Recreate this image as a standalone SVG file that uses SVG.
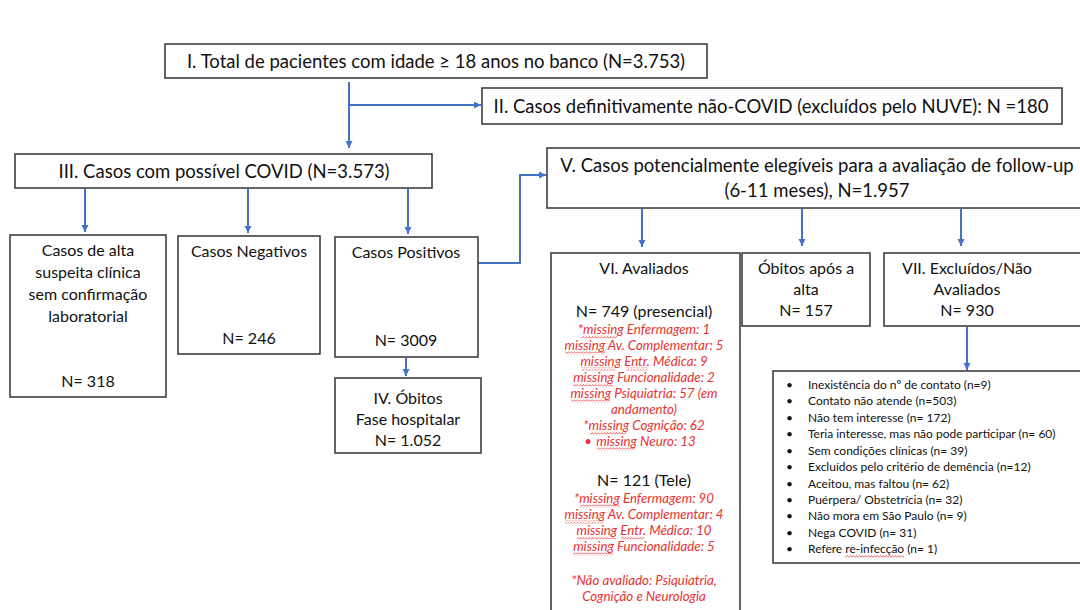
<svg xmlns="http://www.w3.org/2000/svg" width="1080" height="610" viewBox="0 0 1080 610">
<defs>
<marker id="arr" markerUnits="userSpaceOnUse" markerWidth="10" markerHeight="10" refX="7" refY="3.5" orient="auto">
<path d="M0,0 L7,3.5 L0,7 Z" fill="#4472C4"/>
</marker>
<pattern id="wave" patternUnits="userSpaceOnUse" width="3" height="3">
<path d="M0 2.5 L1.5 0.5 L3 2.5" fill="none" stroke="#e8322f" stroke-width="0.7"/>
</pattern>
</defs>
<style>
.box{fill:#fff;stroke:#333;stroke-width:1.5}
.t{font-family:Lato,"Open Sans",sans-serif;fill:#111;text-anchor:middle}
.l{font-size:18.5px}
.m{font-size:16px}
.r{font-family:Lato,"Open Sans",sans-serif;font-style:italic;fill:#e8322f;font-size:13.3px;text-anchor:middle}
.s{font-family:Lato,"Open Sans",sans-serif;fill:#111;font-size:12px}
.wv{fill:url(#wave)}
.c{fill:none;stroke:#4472C4;stroke-width:2}
</style>
<rect width="1080" height="610" fill="#fff"/>
<g id="connectors">
<path class="c" d="M349 82 V148" marker-end="url(#arr)"/>
<path class="c" d="M349 105 H481" marker-end="url(#arr)"/>
<path class="c" d="M85 189 V232" marker-end="url(#arr)"/>
<path class="c" d="M248 189 V233" marker-end="url(#arr)"/>
<path class="c" d="M408 189 V234" marker-end="url(#arr)"/>
<path class="c" d="M406 358 V376" marker-end="url(#arr)"/>
<path class="c" d="M478 263 H520 V175 H546" marker-end="url(#arr)"/>
<path class="c" d="M642 209 V247" marker-end="url(#arr)"/>
<path class="c" d="M802 209 V246" marker-end="url(#arr)"/>
<path class="c" d="M961 209 V246" marker-end="url(#arr)"/>
<path class="c" d="M967 327 V370" marker-end="url(#arr)"/>
</g>
<g id="n1"><rect class="box" x="165" y="44" width="542" height="34"/>
<text class="t l" x="436" y="68">I. Total de pacientes com idade ≥ 18 anos no banco (N=3.753)</text></g>
<g id="n2"><rect class="box" x="482" y="88" width="580" height="36"/>
<text class="t l" x="771" y="113">II. Casos definitivamente não-COVID (excluídos pelo NUVE): N =180</text></g>
<g id="n3"><rect class="box" x="15" y="154" width="417" height="34"/>
<text class="t l" x="224" y="178">III. Casos com possível COVID (N=3.573)</text></g>
<g id="n3a"><rect class="box" x="10" y="235" width="156" height="162"/>
<text class="t m" x="88" y="256">Casos de alta</text>
<text class="t m" x="88" y="278">suspeita clínica</text>
<text class="t m" x="88" y="300">sem confirmação</text>
<text class="t m" x="88" y="322">laboratorial</text>
<text class="t m" x="88" y="387">N= 318</text></g>
<g id="n3b"><rect class="box" x="178" y="236" width="142" height="118"/>
<text class="t m" x="249" y="257">Casos Negativos</text>
<text class="t m" x="249" y="344">N= 246</text></g>
<g id="n3c"><rect class="box" x="335" y="237" width="143" height="120"/>
<text class="t m" x="406" y="258">Casos Positivos</text>
<text class="t m" x="406" y="346">N= 3009</text></g>
<g id="n4"><rect class="box" x="335" y="378" width="146" height="75"/>
<text class="t m" x="408" y="404">IV. Óbitos</text>
<text class="t m" x="408" y="425">Fase hospitalar</text>
<text class="t m" x="408" y="446">N= 1.052</text></g>
<g id="n5"><rect class="box" x="547" y="148" width="545" height="60"/>
<text class="t l" x="817" y="172">V. Casos potencialmente elegíveis para a avaliação de follow-up</text>
<text class="t l" x="817" y="197">(6-11 meses), N=1.957</text></g>
<g id="n6"><rect class="box" x="551" y="253" width="189" height="370"/>
<text class="t m" x="644" y="274">VI. Avaliados</text>
<text class="t m" x="644" y="317">N= 749 (presencial)</text>
<text class="r" x="644" y="334">*missing Enfermagem: 1</text>
<text class="r" x="644" y="350">missing Av. Complementar: 5</text>
<text class="r" x="644" y="366">missing Entr. Médica: 9</text>
<text class="r" x="644" y="382">missing Funcionalidade: 2</text>
<text class="r" x="644" y="398">missing Psiquiatria: 57 (em</text>
<text class="r" x="644" y="414">andamento)</text>
<text class="r" x="644" y="430">*missing Cognição: 62</text>
<text class="r" x="588" y="446">•</text>
<text class="r" x="646" y="446">missing Neuro: 13</text>
<text class="t m" x="644" y="486">N= 121 (Tele)</text>
<text class="r" x="644" y="503">*missing Enfermagem: 90</text>
<text class="r" x="644" y="519">missing Av. Complementar: 4</text>
<text class="r" x="644" y="535">missing Entr. Médica: 10</text>
<text class="r" x="644" y="551">missing Funcionalidade: 5</text>
<text class="r" x="644" y="585">*Não avaliado: Psiquiatria,</text>
<text class="r" x="644" y="601">Cognição e Neurologia</text>
<g class="wv">
<rect x="581" y="335.5" width="36" height="3"/>
<rect x="565" y="351.5" width="40" height="3"/>
<rect x="581" y="367.5" width="35" height="3"/>
<rect x="626" y="367.5" width="22" height="3"/>
<rect x="573" y="383.5" width="40" height="3"/>
<rect x="571" y="399.5" width="39" height="3"/>
<rect x="590" y="431.5" width="36" height="3"/>
<rect x="597" y="447.5" width="38" height="3"/>
<rect x="580" y="504.5" width="40" height="3"/>
<rect x="565" y="520.5" width="39" height="3"/>
<rect x="577" y="536.5" width="39" height="3"/>
<rect x="621" y="536.5" width="23" height="3"/>
<rect x="573" y="552.5" width="40" height="3"/>
</g></g>
<g id="n7"><rect class="box" x="742" y="253" width="128" height="73"/>
<text class="t m" x="806" y="274">Óbitos após a</text>
<text class="t m" x="806" y="295">alta</text>
<text class="t m" x="806" y="316">N= 157</text></g>
<g id="n8"><rect class="box" x="884" y="253" width="210" height="73"/>
<text class="t m" x="967" y="274">VII. Excluídos/Não</text>
<text class="t m" x="967" y="295">Avaliados</text>
<text class="t m" x="967" y="316">N= 930</text></g>
<g id="n9"><rect class="box" x="773" y="371" width="320" height="192"/>
<g class="s">
<text x="786" y="389">•</text><text x="808" y="389">Inexistência do nº de contato (n=9)</text>
<text x="786" y="405">•</text><text x="808" y="405">Contato não atende (n=503)</text>
<text x="786" y="422">•</text><text x="808" y="422">Não tem interesse (n= 172)</text>
<text x="786" y="438">•</text><text x="808" y="438">Teria interesse, mas não pode participar (n= 60)</text>
<text x="786" y="455">•</text><text x="808" y="455">Sem condições clínicas (n= 39)</text>
<text x="786" y="471">•</text><text x="808" y="471">Excluídos pelo critério de demência (n=12)</text>
<text x="786" y="488">•</text><text x="808" y="488">Aceitou, mas faltou (n= 62)</text>
<text x="786" y="504">•</text><text x="808" y="504">Puérpera/ Obstetrícia (n= 32)</text>
<text x="786" y="520">•</text><text x="808" y="520">Não mora em São Paulo (n= 9)</text>
<text x="786" y="537">•</text><text x="808" y="537">Nega COVID (n= 31)</text>
<text x="786" y="553">•</text><text x="808" y="553">Refere re-infecção (n= 1)</text>
</g>
<rect class="wv" x="845" y="555" width="59" height="3"/></g>
</svg>
